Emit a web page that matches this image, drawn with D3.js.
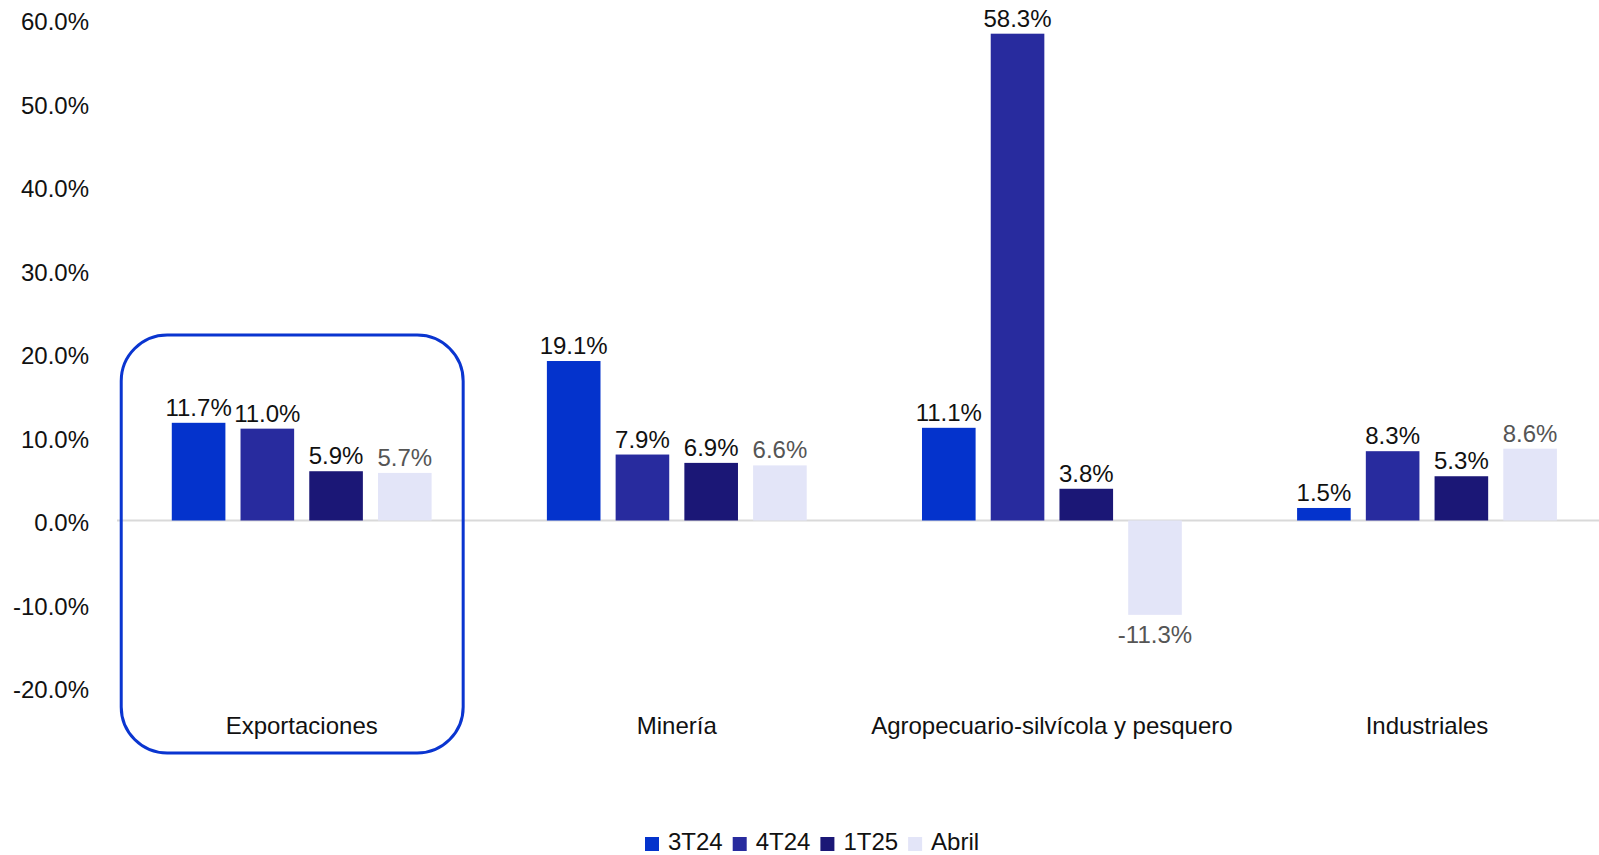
<!DOCTYPE html>
<html>
<head>
<meta charset="utf-8">
<script src="https://cdn.jsdelivr.net/npm/d3@7"></script>
<style>
  html, body { margin: 0; padding: 0; background: #fff; overflow: hidden; }
  svg { display: block; font-family: Arial, "Liberation Sans", sans-serif; }
</style>
</head>
<body>
<svg id="chart" width="1599" height="855"></svg>
<script>
// Year-on-year growth by sector (%)
const categories = ["Exportaciones", "Minería", "Agropecuario-silvícola y pesquero", "Industriales"];
const seriesNames = ["3T24", "4T24", "1T25", "Abril"];
const s3T24 = [11.7, 19.1, 11.1, 1.5];
const s4T24 = [11.0, 7.9, 58.3, 8.3];
const s1T25 = [5.9, 6.9, 3.8, 5.3];
const sAbril = [5.7, 6.6, -11.3, 8.6];
const yTicks = [-20, -10, 0, 10, 20, 30, 40, 50, 60];
const highlighted = "Exportaciones";

const seriesValues = [s3T24, s4T24, s1T25, sAbril];
const colors = ["#0433cc", "#282b9e", "#1b1776", "#e3e5f8"];
const labelColors = ["#111111", "#111111", "#111111", "#555555"];

const svg = d3.select("#chart");
const fontSize = 24;
// plain hyphen for negative numbers
const locale = d3.formatLocale({ decimal: ".", thousands: ",", grouping: [3], currency: ["", ""], minus: "-" });
const fmt = d => locale.format(".1f")(d) + "%";

const rows = [];
categories.forEach((c, i) => {
  seriesNames.forEach((s, j) => {
    rows.push({ cat: c, series: s, idx: j, value: seriesValues[j][i] });
  });
});

const x0 = d3.scaleBand()
  .domain(categories)
  .range([114.15, 1614.55])
  .paddingInner(0.267)
  .paddingOuter(0.1335);

const x1 = d3.scaleBand()
  .domain(seriesNames)
  .range([0, x0.bandwidth()])
  .paddingInner(0.22)
  .paddingOuter(0.11);

const y = d3.scaleLinear().domain([-20, 60]).range([687.5, 19.5]);

// Y axis labels
const yAxis = d3.axisLeft(y).tickValues(yTicks).tickSize(0).tickPadding(0).tickFormat(fmt);
const gy = svg.append("g").attr("transform", "translate(89,0)").call(yAxis);
gy.select(".domain").remove();
gy.selectAll("text")
  .attr("dy", "0.42em")
  .style("font-size", fontSize + "px")
  .style("font-family", "Arial, 'Liberation Sans', sans-serif")
  .attr("fill", "#111");

// Zero baseline
svg.append("line")
  .attr("x1", 117).attr("x2", 1599)
  .attr("y1", y(0)).attr("y2", y(0))
  .attr("stroke", "#d9d9d9").attr("stroke-width", 2);

// Bars
svg.append("g").selectAll("rect")
  .data(rows)
  .join("rect")
  .attr("x", d => x0(d.cat) + x1(d.series))
  .attr("width", x1.bandwidth())
  .attr("y", d => y(Math.max(0, d.value)))
  .attr("height", d => Math.abs(y(d.value) - y(0)))
  .attr("fill", d => colors[d.idx]);

// Value labels
svg.append("g").selectAll("text")
  .data(rows)
  .join("text")
  .attr("x", d => x0(d.cat) + x1(d.series) + x1.bandwidth() / 2)
  .attr("y", d => d.value >= 0 ? y(d.value) - 7 : y(d.value) + 28)
  .attr("text-anchor", "middle")
  .attr("font-size", fontSize)
  .attr("fill", d => labelColors[d.idx])
  .text(d => fmt(d.value));

// Category labels
const xAxis = d3.axisBottom(x0).tickSize(0).tickPadding(0);
const gx = svg.append("g").attr("transform", "translate(0,717)").call(xAxis);
gx.select(".domain").remove();
gx.selectAll("text")
  .style("font-size", fontSize + "px")
  .style("font-family", "Arial, 'Liberation Sans', sans-serif")
  .attr("fill", "#111");

// Highlight frame around the first group
svg.append("rect")
  .attr("x", x0(highlighted) - 43)
  .attr("y", 335)
  .attr("width", x0.bandwidth() + 67)
  .attr("height", 418)
  .attr("rx", 46).attr("ry", 46)
  .attr("fill", "none")
  .attr("stroke", "#0a35d0")
  .attr("stroke-width", 3);

// Legend
const legend = svg.append("g");
let lx = 645;
seriesNames.forEach((s, j) => {
  legend.append("rect")
    .attr("x", lx).attr("y", 837)
    .attr("width", 14).attr("height", 14)
    .attr("fill", colors[j]);
  const t = legend.append("text")
    .attr("x", lx + 23).attr("y", 850)
    .attr("font-size", fontSize)
    .attr("fill", "#111")
    .text(s);
  lx += 23 + t.node().getComputedTextLength() + 10;
});
</script>
</body>
</html>
